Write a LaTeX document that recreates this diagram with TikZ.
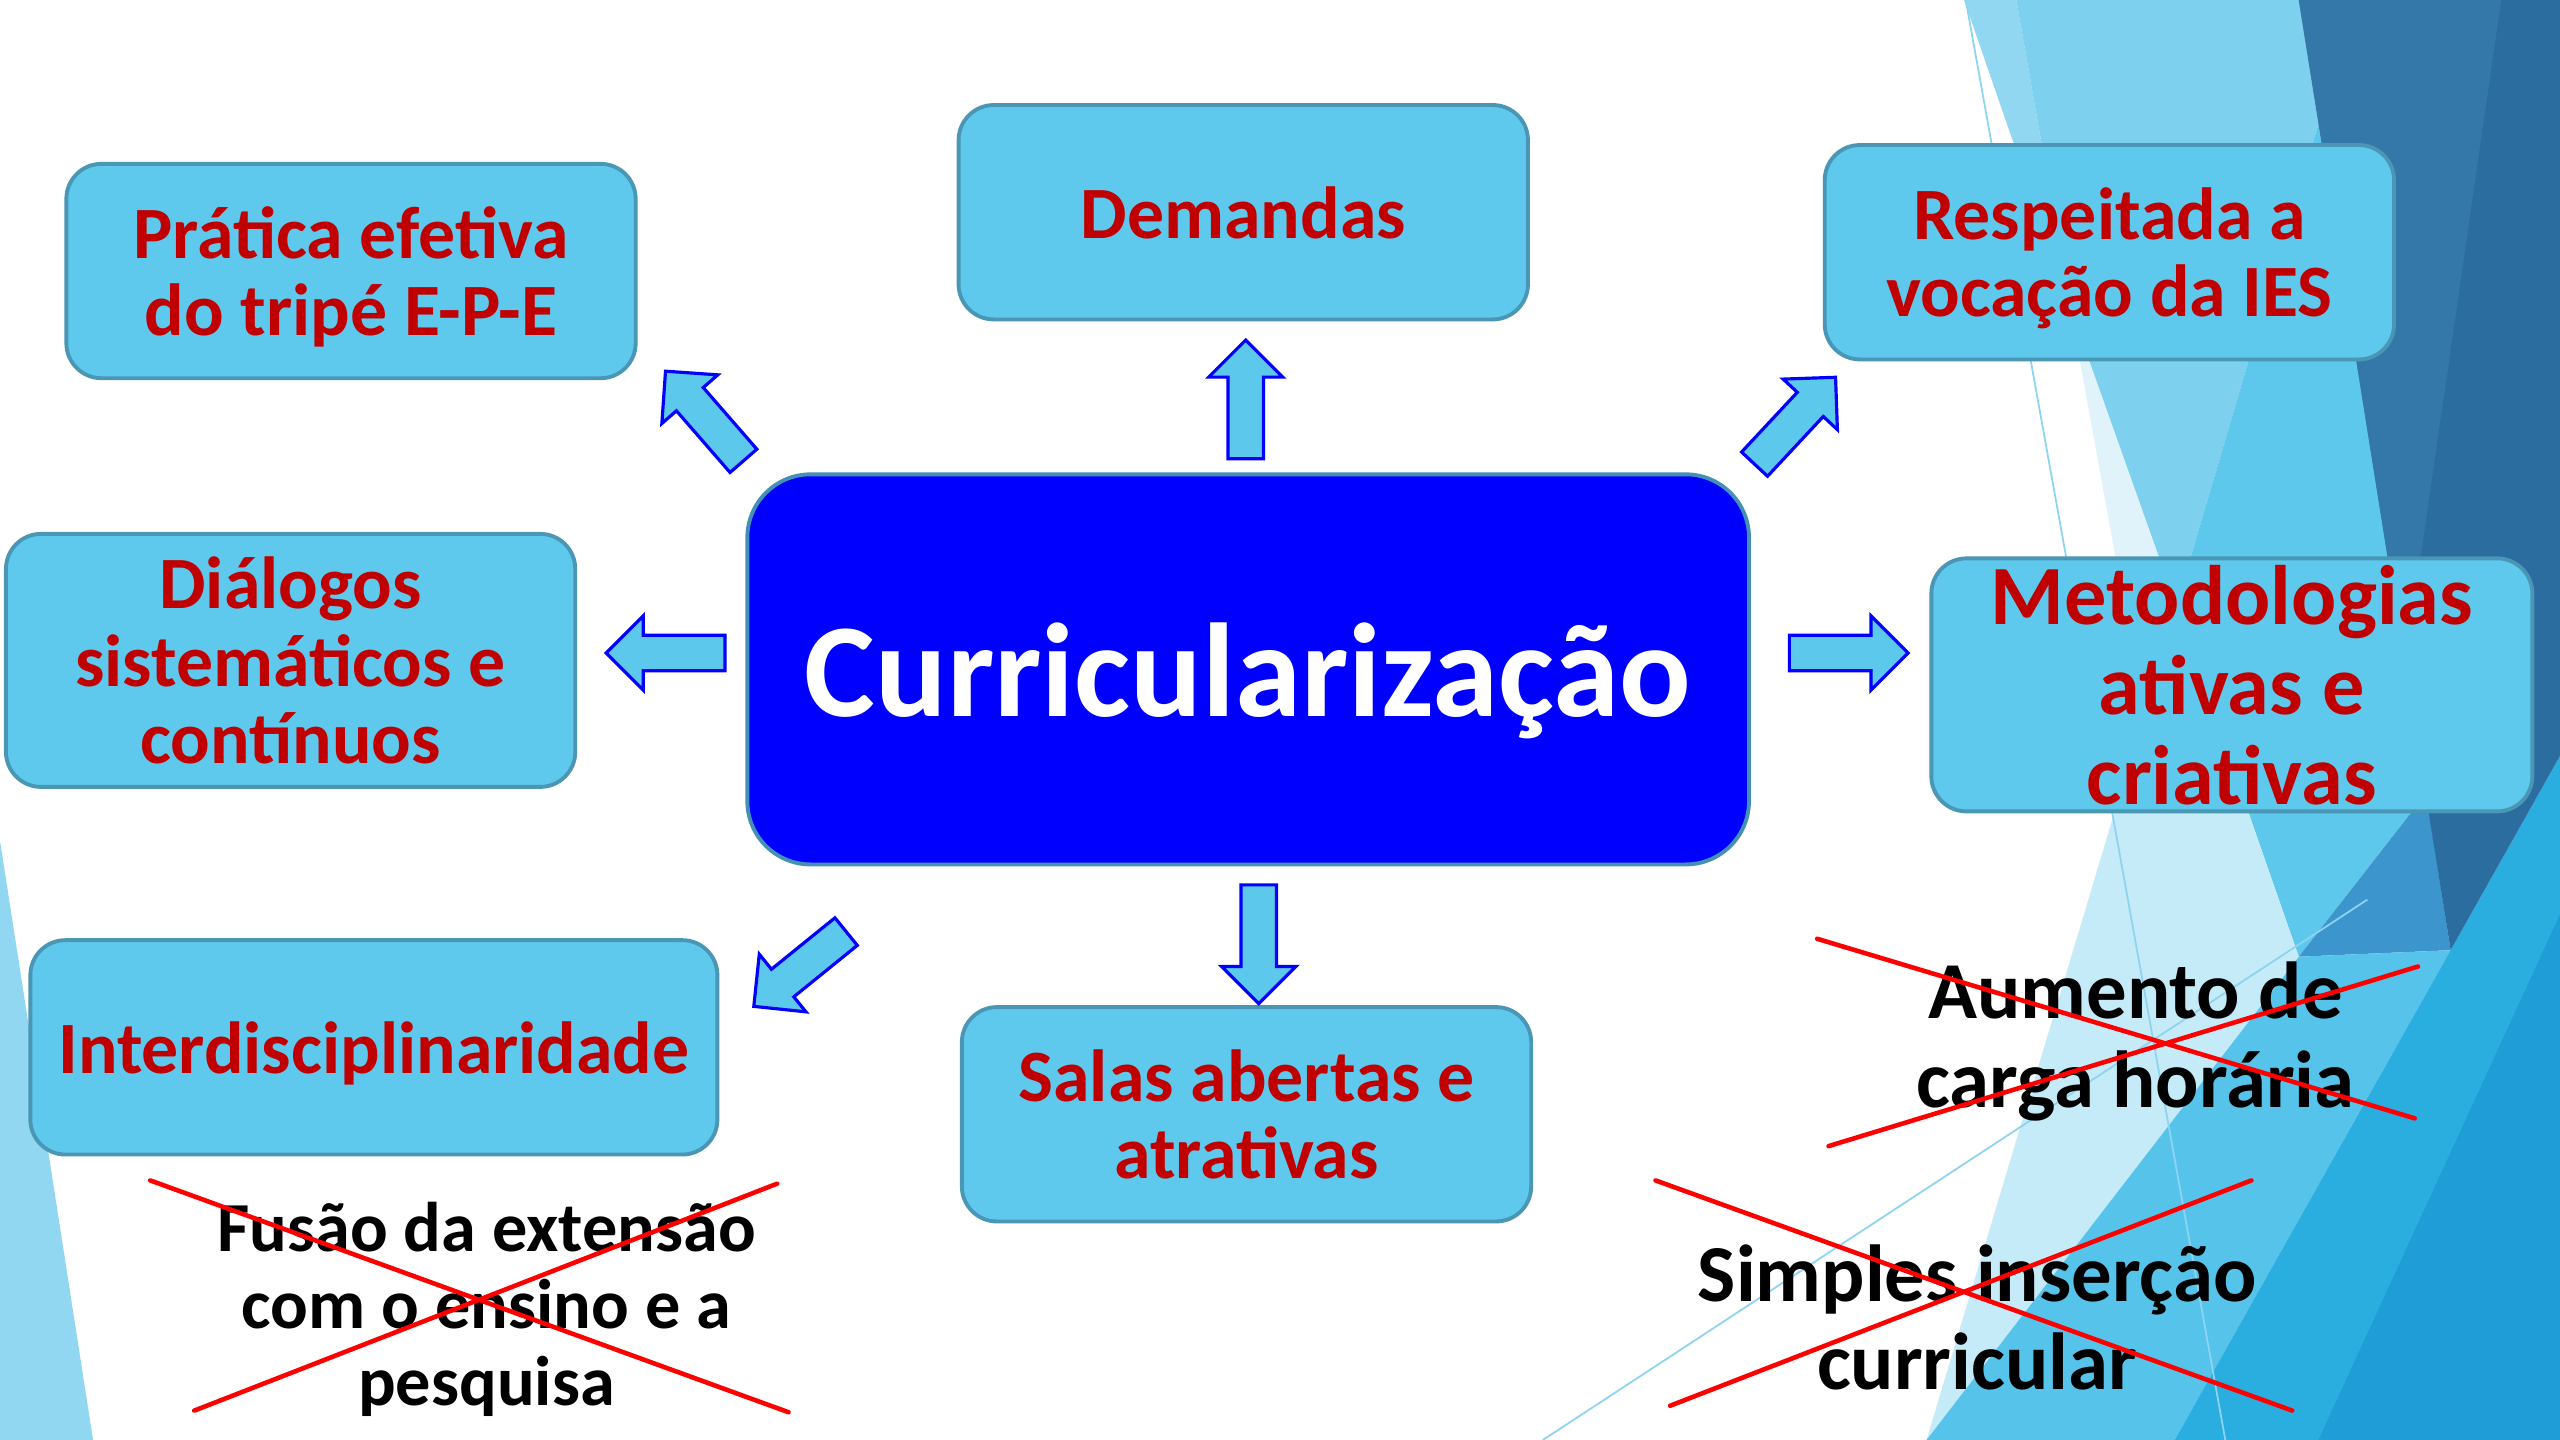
\documentclass[tikz,border=0pt]{standalone}
\usepackage{fontspec}
\setmainfont{Carlito}
\usetikzlibrary{shapes.arrows}

\definecolor{boxfill}{HTML}{5FC9ED}
\definecolor{boxline}{HTML}{4A96B5}
\definecolor{midline}{HTML}{4590B5}
\definecolor{txtred}{HTML}{C00000}
\definecolor{arrfill}{HTML}{5CC8EC}
\definecolor{thinline}{HTML}{8CD4F0}
\definecolor{facetA}{HTML}{92D7F1}
\definecolor{facetB}{HTML}{E0F3FA}
\definecolor{facetC}{HTML}{7DD0EE}
\definecolor{facetD}{HTML}{5EC7EC}
\definecolor{facetE}{HTML}{3D95CD}
\definecolor{facetF}{HTML}{C5EAF8}
\definecolor{facetG}{HTML}{56C3EA}
\definecolor{facetH}{HTML}{2AAEE0}
\definecolor{facetI}{HTML}{1F9DD6}
\definecolor{facetJ}{HTML}{2C6D9F}
\definecolor{facetK}{HTML}{3378A8}

\begin{document}
\begin{tikzpicture}[x=0.016327cm, y=-0.016327cm,
  box/.style={draw=boxline, fill=boxfill, line width=1.1pt, rounded corners=10pt,
    align=center, text=txtred, font=\bfseries\fontsize{21}{22}\selectfont,
    inner sep=0pt, text depth=0pt, minimum width=162pt, minimum height=61pt},
  crossed/.style={align=center, font=\bfseries\fontsize{20}{22}\selectfont},
  blockarrow/.style={single arrow, draw=blue, fill=arrfill, line width=0.9pt,
    inner sep=4.6pt, single arrow head extend=5.5pt,
    minimum height=33.8pt, minimum width=20.3pt, anchor=tail},
  strike/.style={red, line width=1.3pt, line cap=round}]
\useasboundingbox (0,0) rectangle (1568,882);
\fill[white] (0,0) rectangle (1568,882);

% background facets
\fill[facetA] (0,515) -- (57,882) -- (0,882) -- cycle;
\fill[facetA] (1203,0) -- (1235,0) -- (1268,188) -- cycle;
\fill[facetB] (1268,188) -- (1333,371) -- (1313,437) -- cycle;
\fill[facetC] (1235,0) -- (1408,0) -- (1420,76) -- (1333,371) -- (1268,188) -- cycle;
\fill[facetD] (1420,76) -- (1486,486) -- (1408,586) -- (1333,371) -- cycle;
\fill[facetE] (1486,486) -- (1501,582) -- (1408,586) -- cycle;
\fill[facetF] (1333,371) -- (1408,586) -- (1180,882) -- cycle;
\fill[facetG] (1180,882) -- (1408,586) -- (1501,582) -- (1332,882) -- cycle;
\fill[facetH] (1568,463) -- (1568,882) -- (1332,882) -- (1501,582) -- cycle;
\fill[facetI] (1568,560) -- (1568,882) -- (1420,882) -- cycle;
\fill[facetJ] (1408,0) -- (1568,0) -- (1568,463) -- (1501,582) -- cycle;
\fill[facetK] (1408,0) -- (1532,0) -- (1473,408) -- cycle;
\draw[thinline, line width=0.5pt] (1204,0) -- (1363,882)
  (945,882) -- (1450,551);

% boxes
\node[box] (pratica) at (215,166) {Prática efetiva\\do tripé E-P-E};
\node[box] (demandas) at (761.5,130) {Demandas};
\node[box] (respeitada) at (1292,154.5) {Respeitada a\\vocação da IES};
\node[box, minimum height=72pt] (dialogos) at (178,404.5) {Diálogos\\sistemáticos e\\contínuos};
\node[box, minimum width=285pt, minimum height=111pt, fill=blue, draw=midline,
  rounded corners=18pt, text=white, font=\bfseries\fontsize{38}{40}\selectfont]
  (central) at (764.5,410) {Curricularização};
\node[box, minimum width=171pt, minimum height=72pt,
  font=\bfseries\fontsize{24}{25.5}\selectfont]
  (metodologias) at (1367,419.5) {Metodologias\\ativas e\\criativas};
\node[box, minimum width=195.5pt] (interdisc) at (229,641.5) {Interdisciplinaridade};
\node[box] (salas) at (763.5,682.5) {Salas abertas e\\atrativas};

% arrows
\node[blockarrow, rotate=90] (toDemandas) at (763,282) {};
\node[blockarrow, rotate=131] (toPratica) at (456,283) {};
\node[blockarrow, rotate=47] (toRespeitada) at (1074,285) {};
\node[blockarrow, rotate=180] (toDialogos) at (445,400) {};
\node[blockarrow, rotate=0] (toMetodologias) at (1095,400) {};
\node[blockarrow, rotate=270] (toSalas) at (771,541) {};
\node[blockarrow, rotate=219] (toInterdisc) at (519,570) {};

% crossed out
\node[crossed] (fusao) at (298,802) {Fusão da extensão\\com o ensino e a\\pesquisa};
\node[crossed, font=\bfseries\fontsize{23}{25.5}\selectfont] (aumento) at (1308,638) {Aumento de\\carga horária};
\node[crossed, font=\bfseries\fontsize{23}{25}\selectfont] (simples) at (1211,807) {Simples inserção\\curricular};
\draw[strike] (92,723) -- (483,865)
  (119,864) -- (476,725);
\draw[strike] (1113,575) -- (1479,685)
  (1120,702) -- (1481,592);
\draw[strike] (1014,723) -- (1404,864)
  (1023,861) -- (1379,723);
\end{tikzpicture}
\end{document}
